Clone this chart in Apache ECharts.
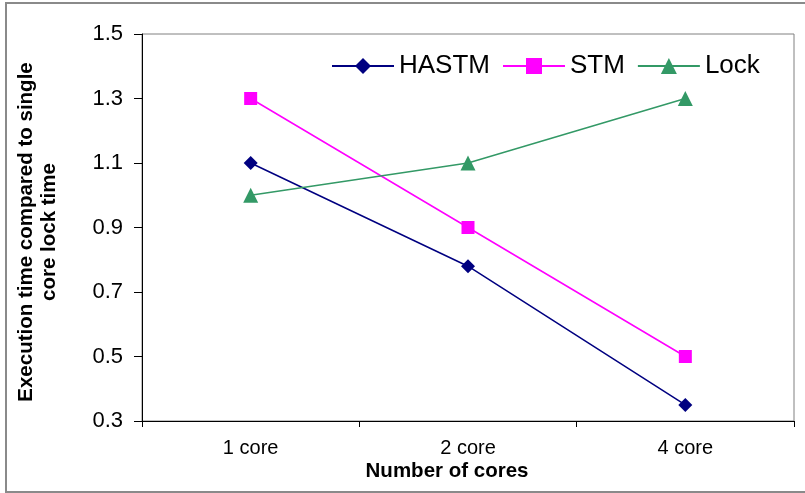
<!DOCTYPE html>
<html>
<head>
<meta charset="utf-8">
<script src="https://cdn.jsdelivr.net/npm/echarts@6/dist/echarts.min.js"></script>
<style>
  html, body { margin: 0; padding: 0; background: #fff; }
  #chart { width: 805px; height: 493px; }
</style>
</head>
<body>
<div id="chart"></div>
<script>
// Execution time relative to single-core lock time, by core count
const categories = ['1 core', '2 core', '4 core'];
const hastm = [1.1, 0.78, 0.35];
const stm = [1.3, 0.9, 0.5];
const lock = [1.0, 1.1, 1.3];

const yTitleLines = ['Execution time compared to single', 'core lock time'];
const xTitle = 'Number of cores';

const FONT = '"Liberation Sans", Arial, sans-serif';
const titleStyle = { fontFamily: FONT, fontSize: 20.5, fontWeight: 'bold', fill: '#000',
                     textAlign: 'center', textVerticalAlign: 'middle' };

const chart = echarts.init(document.getElementById('chart'), null, { renderer: 'canvas' });

chart.setOption({
  backgroundColor: '#ffffff',
  animation: false,
  textStyle: { fontFamily: FONT, color: '#000' },
  graphic: [
    {
      type: 'rect',
      shape: { x: 6, y: 3, width: 820, height: 489 },
      style: { fill: 'none', stroke: '#8a8a8a', lineWidth: 2 },
      silent: true
    },
    // two-line vertical axis title, both lines centred
    {
      type: 'text', x: 26, y: 232, rotation: Math.PI / 2,
      style: Object.assign({ text: yTitleLines[0] }, titleStyle), silent: true
    },
    {
      type: 'text', x: 49, y: 232, rotation: Math.PI / 2,
      style: Object.assign({ text: yTitleLines[1] }, titleStyle), silent: true
    },
    {
      type: 'text', x: 447, y: 471,
      style: Object.assign({ text: xTitle }, titleStyle), silent: true
    }
  ],
  grid: {
    left: 142, right: 11, top: 34, bottom: 72,
    show: true, borderColor: '#808080', borderWidth: 1, backgroundColor: 'transparent'
  },
  legend: {
    left: 326, top: 48,
    itemWidth: 62, itemHeight: 20, itemGap: 12,
    textStyle: { fontFamily: FONT, fontSize: 26, color: '#000' },
    data: ['HASTM', 'STM', 'Lock']
  },
  xAxis: {
    type: 'category',
    data: categories,
    boundaryGap: true,
    axisLine: { lineStyle: { color: '#000', width: 1 } },
    axisTick: { show: true, inside: false, length: 6, lineStyle: { color: '#000' } },
    axisLabel: { fontFamily: FONT, fontSize: 20, color: '#000', margin: 17 }
  },
  yAxis: {
    type: 'value',
    min: 0.3, max: 1.5, interval: 0.2,
    axisLine: { show: true, lineStyle: { color: '#000', width: 1 } },
    axisTick: { show: true, inside: false, length: 8, lineStyle: { color: '#000' } },
    splitLine: { show: false },
    axisLabel: {
      fontFamily: FONT, fontSize: 22, color: '#000', margin: 19,
      formatter: v => v.toFixed(1)
    }
  },
  series: [
    {
      name: 'HASTM', type: 'line', data: hastm,
      symbol: 'diamond', symbolSize: 14,
      lineStyle: { color: '#000080', width: 1.5 },
      itemStyle: { color: '#000080' }
    },
    {
      name: 'STM', type: 'line', data: stm,
      symbol: 'rect', symbolSize: 13,
      lineStyle: { color: '#ff00ff', width: 1.5 },
      itemStyle: { color: '#ff00ff' }
    },
    {
      name: 'Lock', type: 'line', data: lock,
      symbol: 'triangle', symbolSize: 15,
      lineStyle: { color: '#339966', width: 1.5 },
      itemStyle: { color: '#339966' }
    }
  ]
});
</script>
</body>
</html>
